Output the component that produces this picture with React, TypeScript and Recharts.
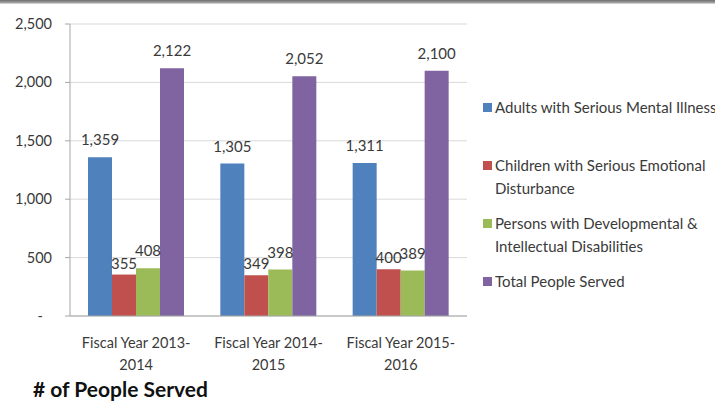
import React from "react";
import { BarChart, Bar, XAxis, YAxis, CartesianGrid, LabelList } from "recharts";

// Data
const categories = ["Fiscal Year 2013-2014", "Fiscal Year 2014-2015", "Fiscal Year 2015-2016"];
const adultsSMI = [1359, 1305, 1311];
const childrenSED = [355, 349, 400];
const personsDD = [408, 398, 389];
const totalServed = [2122, 2052, 2100];
const yTicks = [0, 500, 1000, 1500, 2000, 2500];
const seriesNames = [
  "Adults with Serious Mental Illness",
  "Children with Serious Emotional Disturbance",
  "Persons with Developmental & Intellectual Disabilities",
  "Total People Served",
];
const chartTitle = "# of People Served";

// Office 2007 palette
const COLORS = ["#4f81bd", "#c0504d", "#9bbb59", "#8064a2"];
const TEXT = "#3a3a3a";
const FONT = "Lato, 'Open Sans', sans-serif";

const data = categories.map((name, i) => ({
  name,
  adults: adultsSMI[i],
  children: childrenSED[i],
  persons: personsDD[i],
  total: totalServed[i],
}));

const keys = ["adults", "children", "persons", "total"];
const labelOffsets = [12, 6, 12, 12];

const fmt = (v: number) => v.toLocaleString("en-US");

function YTick(props: any) {
  const { x, y, payload } = props;
  const v = payload.value;
  return (
    <text x={v === 0 ? x - 9 : x} y={y} dy={5} textAnchor="end" fill={TEXT} fontSize={14.5} fontFamily={FONT}>
      {v === 0 ? "-" : fmt(v)}
    </text>
  );
}

function XTick(props: any) {
  const { x, y, payload } = props;
  const cut = payload.value.indexOf("-") + 1;
  const lines = [payload.value.slice(0, cut), payload.value.slice(cut)];
  return (
    <text x={x} y={y} textAnchor="middle" fill={TEXT} fontSize={14.5} fontFamily={FONT}>
      <tspan x={x} dy={32}>{lines[0]}</tspan>
      <tspan x={x} dy={22}>{lines[1]}</tspan>
    </text>
  );
}

export default function App() {
  return (
    <div style={{ position: "absolute", left: 0, top: 0, width: 715, height: 407, overflow: "hidden", background: "#fff", fontFamily: FONT }}>
      <div style={{ position: "absolute", left: 0, top: 0, width: 715, height: 4, background: "linear-gradient(#6e6e6e, #9a9a9a 60%, #e6e6e6)" }} />
      <BarChart
        width={715}
        height={407}
        data={data}
        margin={{ top: 24, right: 248, bottom: 31, left: 0 }}
        barCategoryGap={18}
        barGap={0}
      >
        <CartesianGrid vertical={false} stroke="#d9d9d9" />
        <XAxis
          xAxisId="bounds"
          type="number"
          domain={[0, 3]}
          ticks={[0, 1, 2, 3]}
          tick={false}
          axisLine={false}
          tickLine={{ stroke: "#a6a6a6" }}
          tickSize={6}
          height={0}
        />
        <XAxis
          dataKey="name"
          height={60}
          tick={<XTick />}
          tickLine={false}
          tickSize={0}
          tickMargin={0}
          axisLine={{ stroke: "#a6a6a6" }}
          interval={0}
        />
        <YAxis
          width={70}
          domain={[0, 2500]}
          ticks={yTicks}
          tick={<YTick />}
          tickSize={5}
          tickMargin={13}
          tickLine={{ stroke: "#a6a6a6" }}
          axisLine={{ stroke: "#a6a6a6" }}
        />
        {keys.map((k, i) => (
          <Bar key={k} dataKey={k} name={seriesNames[i]} fill={COLORS[i]} isAnimationActive={false}>
            <LabelList
              dataKey={k}
              position="top"
              offset={labelOffsets[i]}
              formatter={(v: any) => fmt(Number(v))}
              fill={TEXT}
              fontSize={15}
              fontFamily={FONT}
            />
          </Bar>
        ))}
      </BarChart>

      {/* legend */}
      <div style={{ position: "absolute", left: 483, top: 96, color: TEXT, fontSize: 15, lineHeight: "23px" }}>
        {seriesNames.map((n, i) => (
          <div key={n} style={{ position: "relative", height: 58, paddingLeft: 12 }}>
            <span style={{ position: "absolute", left: 0, top: 7, width: 9, height: 9, background: COLORS[i] }} />
            <div style={{ width: i === 0 ? "auto" : 214, whiteSpace: i === 0 ? "nowrap" : "normal" }}>{n}</div>
          </div>
        ))}
      </div>

      <div style={{ position: "absolute", left: 33, top: 377, fontSize: 21, fontWeight: 700, color: "#111", lineHeight: "24px" }}>
        {chartTitle}
      </div>
    </div>
  );
}
